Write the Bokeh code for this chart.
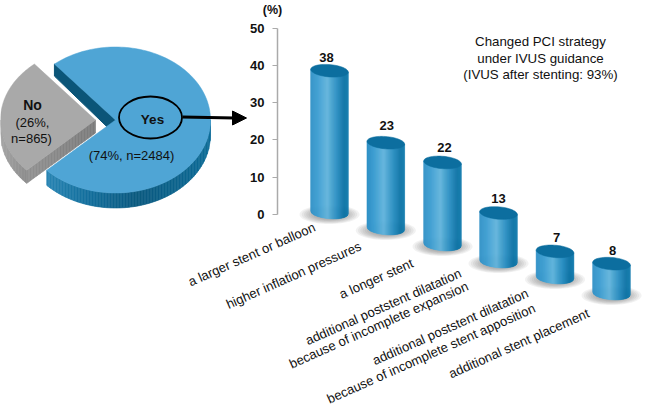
import numpy as np
from bokeh.embed import file_html
from bokeh.models import FixedTicker, LinearAxis, Range1d
from bokeh.plotting import figure
from bokeh.resources import INLINE
from bokeh.core.properties import value

# ---- data
pie_names = ["Yes", "No"]
pie_shares = [74, 26]
pie_notes = ["(74%, n=2484)", "(26%,", "n=865)"]
bar_values = [38, 23, 22, 13, 7, 8]
bar_labels = [
    "a larger stent or balloon",
    "higher inflation pressures",
    "a longer stent",
    "additional poststent dilatation",
    "because of incomplete expansion",
    "additional poststent dilatation",
    "because of incomplete stent apposition",
    "additional stent placement",
]
y_ticks = [0, 10, 20, 30, 40, 50]
note_lines = ["Changed PCI strategy", "under IVUS guidance", "(IVUS after stenting: 93%)"]

# ---- layout
W, H = 647, 407
FONT = "Liberation Sans"
Y0_PX, PX_PER_UNIT = 214.0, 3.73
bar_cx = [329, 385.3, 442, 498, 554.5, 611]
bar_base = [212, 228, 244, 261, 277, 293]
bar_value_dy = [13, 17, 15, 15, 14, 13]
bar_value_dx = [-3, 1, 2, 0, 1.5, 1]
label_ends = [(314, 226), (360, 245), (412, 262), (460, 272), (467, 285), (527, 292), (534, 307), (588, 312)]
RX, RY, TILT = 18.8, 6.2, 0.075


def mix(stops, t):
    xs = [s[0] for s in stops]
    rgb = np.array([[int(s[1][i:i + 2], 16) for i in (1, 3, 5)] for s in stops], float)
    c = [int(round(np.interp(t, xs, rgb[:, k]))) for k in range(3)]
    return "#%02x%02x%02x" % tuple(c)


def pct(px):
    """pixel row -> value on the percent scale"""
    return (Y0_PX - np.asarray(px, float)) / PX_PER_UNIT


p = figure(width=W, height=H, output_backend="svg", toolbar_location=None,
           x_range=Range1d(0, W), y_range=Range1d(float(pct(H)), float(pct(0))),
           x_axis_location=None, y_axis_location=None, min_border=0,
           outline_line_color=None, background_fill_color="white",
           styles={"position": "absolute", "left": "0px", "top": "0px"})
p.grid.visible = False
p.extra_y_ranges = {"px": Range1d(H, 0)}

# ---- exploded pie
CX_YES, CX_NO, CY, PRX, PRY = 115.0, 95.0, 119.5, 95.0, 73.0
DEPTH = 15.0
start = np.deg2rad(130.0)
sweep_yes = np.deg2rad(360.0 * pie_shares[0] / sum(pie_shares))
sweep_no = np.deg2rad(360.0 * pie_shares[1] / sum(pie_shares))
end = start - sweep_yes


def arc(cx, a0, a1, n=160):
    t = np.linspace(a0, a1, n)
    return cx + PRX * np.cos(t), CY - PRY * np.sin(t)


def lower_edge(cx, x):
    return CY + PRY * np.sqrt(np.clip(1 - ((x - cx) / PRX) ** 2, 0, 1))


def strips(cx, x0, x1, top_fn, depth, stops, step=1.5):
    xs, ys, cols = [], [], []
    edges = np.arange(x0, x1 + step, step)
    edges[-1] = min(edges[-1], x1)
    for a, b in zip(edges[:-1], edges[1:]):
        if b <= a:
            continue
        t = ((a + b) / 2 - x0) / (x1 - x0)
        xs.append([a, b, b, a])
        ys.append([top_fn(a), top_fn(b), top_fn(b) + depth, top_fn(a) + depth])
        cols.append(mix(stops, t))
    p.patches(xs, ys, fill_color=cols, line_color=cols, line_width=0.6, y_range_name="px")


# blue side
x_end = CX_YES + PRX * np.cos(end)
y_end = CY - PRY * np.sin(end)
strips(CX_YES, x_end, CX_YES + PRX, lambda x: lower_edge(CX_YES, x), DEPTH,
       [(0, "#2a86b4"), (0.25, "#14709e"), (0.55, "#0b5a80"), (1, "#0e6c98")])
# blue inner wall
x_s = CX_YES + PRX * np.cos(start)
y_s = CY - PRY * np.sin(start)
p.patch([x_s, CX_YES, CX_YES, x_s], [y_s, CY, CY + DEPTH, y_s + DEPTH - 3],
        fill_color="#0b5578", line_color="#0b5578", y_range_name="px")
# blue top
ax, ay = arc(CX_YES, start, end)
p.patch(np.r_[CX_YES, ax], np.r_[CY, ay], fill_color="#4fa5d5", line_color="#4fa5d5",
        line_width=0.5, y_range_name="px")

# grey side
no_a0, no_a1 = start, start + sweep_no
nx0 = CX_NO + PRX * np.cos(no_a1)
ny0 = CY - PRY * np.sin(no_a1)
strips(CX_NO, CX_NO - PRX, nx0, lambda x: lower_edge(CX_NO, x), 13.0,
       [(0, "#a6a6a6"), (1, "#8e8e8e")])
slope = (CY - ny0) / (CX_NO - nx0)
strips(CX_NO, nx0, CX_NO, lambda x: ny0 + slope * (x - nx0), 13.0,
       [(0, "#929292"), (1, "#7c7c7c")])
# grey top
gx, gy = arc(CX_NO, no_a0, no_a1)
p.patch(np.r_[CX_NO, gx], np.r_[CY, gy], fill_color="#a9a9a9", line_color="#a9a9a9",
        line_width=0.5, y_range_name="px")

# Yes ring and arrow
p.ellipse([150], [117], width=[63], height=[42], fill_color=None, line_color="black",
          line_width=1.8, y_range_name="px", width_units="data", height_units="data")
p.line([182, 234], [116.5, 117.5], line_color="black", line_width=3, y_range_name="px")
p.patch([232, 246, 232], [110.5, 117.5, 124.5], fill_color="black", line_color="black", y_range_name="px")


def txt(x, y, s, size, style="normal", align="center", angle=0, baseline="middle", color="#111111"):
    p.text([x], [y], text=[s], text_font=value(FONT), text_font_size=size, text_font_style=style,
           text_align=align, text_baseline=baseline, text_color=color, angle=angle,
           y_range_name="px")


txt(152, 119, pie_names[0], "13.5px", "bold")
txt(32, 104, pie_names[1], "14px", "bold")
txt(32, 122, pie_notes[1], "13px")
txt(31, 138, pie_notes[2], "13px")
txt(131, 155, pie_notes[0], "13px")

# ---- axis
axis = LinearAxis(fixed_location=277, ticker=FixedTicker(ticks=y_ticks), bounds=(0, 50))
axis.axis_line_color = "#aaaaaa"
axis.axis_line_width = 1.5
axis.major_tick_line_color = "#aaaaaa"
axis.major_tick_line_width = 1
axis.major_tick_in = 0
axis.major_tick_out = 5
axis.minor_tick_line_color = None
axis.major_label_text_font = FONT
axis.major_label_text_font_size = "13px"
axis.major_label_text_font_style = "bold"
axis.major_label_text_color = "#111111"
axis.major_label_standoff = 8
p.add_layout(axis, "left")
txt(272, 9, "(%)", "12.5px", "bold")

# ---- cylinders
side_stops = [(0, "#2f90c6"), (0.2, "#3d9ed1"), (0.45, "#62b4dc"), (0.7, "#2a8fc2"), (0.9, "#0c72a5"), (1, "#0f7aad")]
for v, cx, base, ddy, ddx in zip(bar_values, bar_cx, bar_base, bar_value_dy, bar_value_dx):
    # soft shadow under the bar
    t = np.linspace(0, 2 * np.pi, 60)
    for k, a in zip(np.linspace(1.0, 0.55, 7), [0.07] * 7):
        p.patch(cx + 30 * k * np.cos(t), pct(base + 2 + 9.5 * k * np.sin(t)),
                fill_color="#444444", fill_alpha=a, line_color=None)
    base_pct = float(pct(base))
    top_pct = base_pct + v
    dxs = np.linspace(-RX, RX, 39)
    xs, ys, cols = [], [], []
    for a, b in zip(dxs[:-1], dxs[1:]):
        low = lambda d: base_pct - (TILT * d + RY * np.sqrt(max(1 - (d / RX) ** 2, 0))) / PX_PER_UNIT
        up = lambda d: top_pct - TILT * d / PX_PER_UNIT
        xs.append([cx + a, cx + b, cx + b, cx + a])
        ys.append([up(a), up(b), low(b), low(a)])
        cols.append(mix(side_stops, ((a + b) / 2 + RX) / (2 * RX)))
    p.patches(xs, ys, fill_color=cols, line_color=cols, line_width=0.6)
    # cap
    d = RX * np.cos(t)
    p.patch(cx + d, top_pct - (TILT * d + RY * np.sin(t)) / PX_PER_UNIT,
            fill_color="#0c6e9f", line_color="#0c6e9f", line_width=0.5)
    p.text([cx + ddx], [top_pct + ddy / PX_PER_UNIT], text=[str(v)], text_font=value(FONT),
           text_font_size="13px", text_font_style="bold", text_align="center",
           text_baseline="middle", text_color="#111111")

# ---- rotated labels
for s, (x, y) in zip(bar_labels, label_ends):
    txt(x, y, s, "13.1px", align="right", angle=np.deg2rad(24))

for s, y in zip(note_lines, [41, 57.5, 74]):
    txt(540, y, s, "13.3px")

open("out.html", "w").write(file_html(p, INLINE))
